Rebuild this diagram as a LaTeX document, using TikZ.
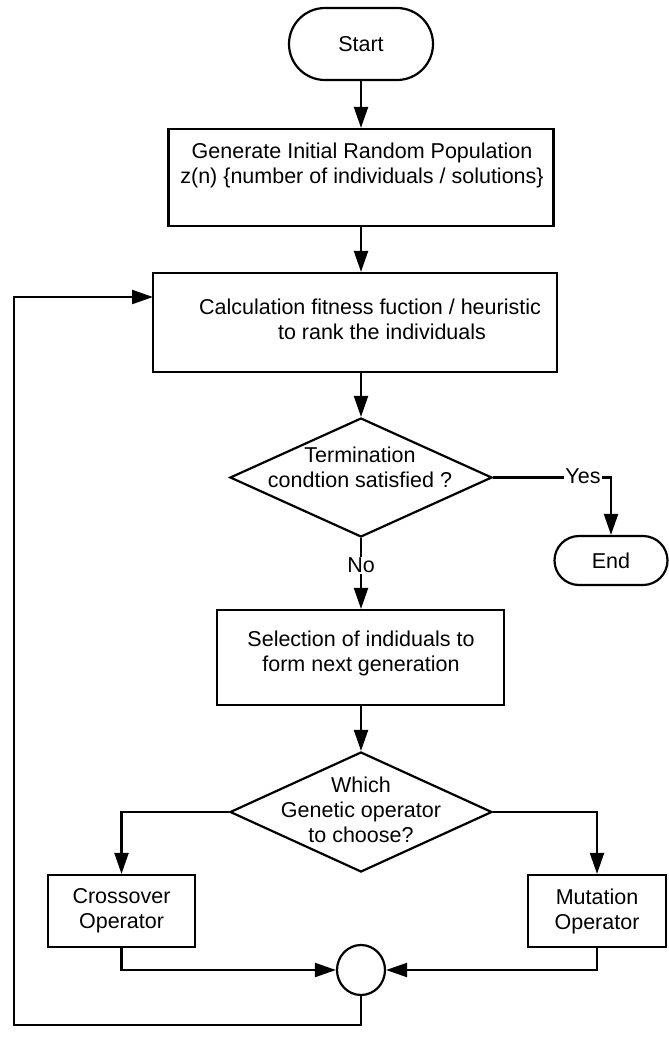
\documentclass[tikz,border=0pt]{standalone}
\usepackage{fontspec}
\setmainfont{Liberation Sans}
\usetikzlibrary{arrows.meta,shapes.geometric,shapes.misc}
\begin{document}
\begin{tikzpicture}[x=1pt,y=-1pt,
  every node/.style={font=\fontsize{21.5}{25}\selectfont},
  line/.style={line width=2.2pt, draw=black},
  arr/.style={line, -{Triangle[length=21pt,width=14pt]}},
  box/.style={draw, line width=2.2pt, rectangle, inner sep=0pt},
  term/.style={draw, line width=2.2pt, rounded rectangle, inner sep=0pt},
  dia/.style={draw, line width=2.2pt, diamond, inner sep=0pt},
  txt/.style={align=center, inner sep=0pt},
  lbl/.style={fill=white, inner sep=1pt}]
\useasboundingbox (0,0) rectangle (669,1055);
% nodes
\node[term, minimum width=144, minimum height=72] (start) at (361,44) {Start};
\node[box, minimum width=385, minimum height=97] (b1) at (361,177.5) {};
\node[txt] (t1) at (362,165) {Generate Initial Random Population\\z(n) \{number of individuals / solutions\}};
\node[box, minimum width=404, minimum height=99] (b2) at (355,322.5) {};
\node[txt] (t2) at (370,319) {Calculation fitness fuction / heuristic\\\hspace*{24pt}to rank the individuals};
\node[dia, minimum width=262, minimum height=119] (d1) at (361,477.5) {};
\node[txt] (t3) at (360,467) {Termination\\condtion satisfied ?};
\node[term, minimum width=113, minimum height=49] (end) at (611,560.5) {End};
\node[box, minimum width=287, minimum height=95] (b3) at (360.5,657.5) {};
\node[txt] (t4) at (361,653) {Selection of indiduals to\\form next generation};
\node[dia, minimum width=262, minimum height=120] (d2) at (361,812) {};
\node[txt] (t5) at (361,810) {Which\\Genetic operator\\to choose?};
\node[box, minimum width=147, minimum height=72, align=center] (cross) at (121.5,911) {Crossover\\Operator};
\node[box, minimum width=138, minimum height=72, align=center] (mut) at (597,911) {Mutation\\Operator};
\node[draw, line width=2.2pt, ellipse, minimum width=48, minimum height=50, inner sep=0pt] (circ) at (361,970) {};
\coordinate (fb1) at (361,1025);
\coordinate (fb2) at (14,1025);
\coordinate (fb3) at (14,297);
\coordinate (fb4) at (153,297);
% connectors
\draw[arr] (start.south) -- (start.south |- b1.north);
\draw[arr] (b1.south) -- (b1.south |- b2.north);
\draw[arr] (b2.south -| d1.north) -- (d1.north);
\draw[arr] (d1.east) -| (end.north);
\node[lbl] (yes) at (583,476) {Yes};
\draw[arr] (d1.south) -- (d1.south |- b3.north);
\node[lbl] (no) at (361,565) {No};
\draw[arr] (b3.south -| d2.north) -- (d2.north);
\draw[arr] (d2.west) -| (cross.north);
\draw[arr] (d2.east) -| (mut.north);
\draw[arr] (cross.south) |- (circ.west);
\draw[arr] (mut.south) |- (circ.east);
\draw[arr] (circ.south) -- (fb1) -- (fb2) -- (fb3) -- (fb4);
\end{tikzpicture}
\end{document}
